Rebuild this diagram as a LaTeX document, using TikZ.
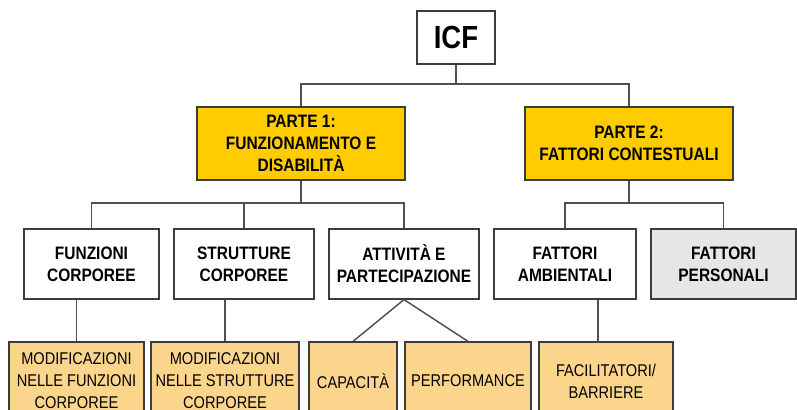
\documentclass[tikz,border=0pt]{standalone}
\usepackage{fontspec}
\setmainfont{Liberation Sans}[FakeStretch=0.86]
\usepackage{tikz}

\definecolor{icfgelb}{HTML}{FFCC00}
\definecolor{icforange}{HTML}{FCD58D}
\definecolor{icfgrau}{HTML}{E6E6E6}
\definecolor{icfrand}{HTML}{3C3C3C}

\begin{document}
\begin{tikzpicture}[x=0.75pt,y=-0.75pt,
  box/.style={draw=icfrand, line width=0.9pt, rectangle, inner sep=0pt,
    align=center, font=\bfseries\fontsize{13.5}{16.5}\selectfont},
  ebene/.style={box, minimum height=70*0.75pt},
  blatt/.style={box, fill=icforange, minimum height=78*0.75pt,
    font=\fontsize{12.75}{16.5}\selectfont},
  verb/.style={draw=icfrand!90, line width=1.1pt}]

  \useasboundingbox (0,0) rectangle (797,410);
  \clip (0,0) rectangle (797,410);

  % Wurzel und Teile
  \node[box, fill=white, minimum width=78*0.75pt, minimum height=53*0.75pt,
    font=\bfseries\fontsize{24}{28}\selectfont] (icf) at (456,37.5) {ICF};
  \node[box, fill=icfgelb, minimum width=208*0.75pt, minimum height=73*0.75pt]
    (teil1) at (301,143.5) {PARTE 1:\\FUNZIONAMENTO E\\DISABILITÀ};
  \node[box, fill=icfgelb, minimum width=208*0.75pt, minimum height=73*0.75pt]
    (teil2) at (629,143.5) {PARTE 2:\\FATTORI CONTESTUALI};

  % Komponenten
  \node[ebene, minimum width=135*0.75pt] (funz) at (91.5,264) {FUNZIONI\\CORPOREE};
  \node[ebene, minimum width=140*0.75pt] (strut) at (244,264) {STRUTTURE\\CORPOREE};
  \node[ebene, minimum width=150*0.75pt] (attiv) at (404,264) {ATTIVITÀ E\\PARTECIPAZIONE};
  \node[ebene, minimum width=142*0.75pt] (ambi) at (565,264) {FATTORI\\AMBIENTALI};
  \node[ebene, fill=icfgrau, minimum width=145*0.75pt] (pers) at (723.5,264) {FATTORI\\PERSONALI};

  % Blaetter
  \node[blatt, minimum width=135*0.75pt] (modfunz) at (76.5,381)
    {MODIFICAZIONI\\NELLE FUNZIONI\\CORPOREE};
  \node[blatt, minimum width=148*0.75pt] (modstrut) at (225,381)
    {MODIFICAZIONI\\NELLE STRUTTURE\\CORPOREE};
  \node[blatt, minimum width=88*0.75pt] (capac) at (353,381) {CAPACITÀ};
  \node[blatt, minimum width=126*0.75pt] (perf) at (468,381) {PERFORMANCE};
  \node[blatt, minimum width=134*0.75pt] (facil) at (606,381) {FACILITATORI/\\BARRIERE};

  % Verbindungen
  \coordinate (k0) at (456,84);
  \coordinate (k1) at (301,203);
  \coordinate (k2) at (629,203);
  \coordinate (k3) at (598,342);
  \draw[verb] (icf) -- (k0);
  \draw[verb] (teil1.north) |- (k0) -| (teil2.north);
  \draw[verb] (teil1) -- (k1);
  \draw[verb] (funz.north) |- (k1) -| (attiv.north);
  \draw[verb] (strut.north) -- (strut.north |- k1);
  \draw[verb] (teil2) -- (k2);
  \draw[verb] (ambi.north) |- (k2) -| (pers.north);
  \draw[verb] (modfunz.north) -- (modfunz.north |- funz.south);
  \draw[verb] (modstrut.north) -- (modstrut.north |- strut.south);
  \draw[verb] (attiv.south) -- (capac.north);
  \draw[verb] (attiv.south) -- (perf.north);
  \draw[verb] (k3) -- (k3 |- ambi.south);
\end{tikzpicture}
\end{document}
